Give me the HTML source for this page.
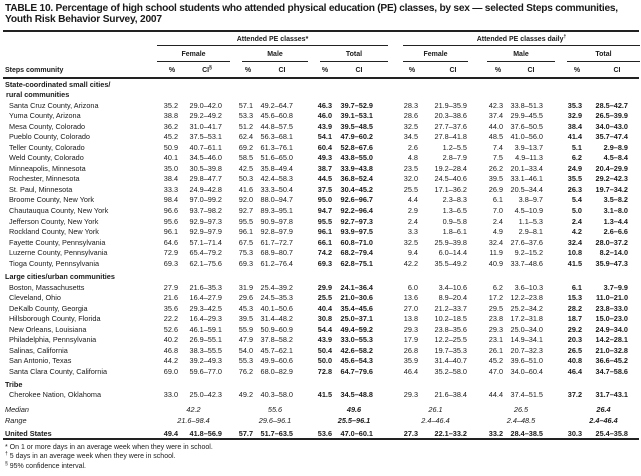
<!DOCTYPE html>
<html><head><meta charset="utf-8"><style>
body{margin:0;background:#fff;}
#p{position:relative;width:641px;height:476px;overflow:hidden;font-family:"Liberation Sans",Arial,sans-serif;color:#1a1a1a;font-size:7.3px;}
.r{position:absolute;left:0;width:641px;height:11px;line-height:11px;white-space:nowrap;}
.r span{position:absolute;}
.n{left:9px}.h{left:5px;font-weight:bold}
.a{right:463px}.b{right:419px}.c{right:388px}.d{right:348px}.e{right:309px;font-weight:bold}.f{right:268px;font-weight:bold}
.g{right:223px}.i{right:174px}.j{right:138px}.k{right:98px}.l{right:59px;font-weight:bold}.m{right:13px;font-weight:bold}
.ln{position:absolute;background:#222;}
.t{position:absolute;left:5px;font-weight:bold;font-size:10.2px;white-space:nowrap;}
.hc{position:absolute;text-align:center;font-weight:bold;font-size:7px;line-height:9px;height:9px;white-space:nowrap;}
sup{font-size:5px;line-height:0;vertical-align:3px;}
.md span{text-align:center;font-style:italic;}
.fn{position:absolute;left:5px;font-size:7px;line-height:9px;white-space:nowrap;}
</style></head><body><div id="p">
<div class="t" style="top:3px;letter-spacing:-0.25px">TABLE 10. Percentage of high school students who attended physical education (PE) classes, by sex — selected Steps communities,</div>
<div class="t" style="top:14px;letter-spacing:-0.2px">Youth Risk Behavior Survey, 2007</div>
<div class="ln" style="left:3px;width:636px;top:30px;height:2px"></div>
<div class="hc" style="left:157px;width:231px;top:35px">Attended PE classes*</div>
<div class="hc" style="left:403px;width:237px;top:35px">Attended PE classes daily<sup>†</sup></div>
<div class="ln" style="left:157px;width:231px;top:45px;height:1px"></div>
<div class="ln" style="left:403px;width:237px;top:45px;height:1px"></div>
<div class="hc" style="left:157px;width:73px;top:50px">Female</div>
<div class="hc" style="left:242px;width:66px;top:50px">Male</div>
<div class="hc" style="left:320px;width:68px;top:50px">Total</div>
<div class="hc" style="left:403px;width:65px;top:50px">Female</div>
<div class="hc" style="left:487px;width:68px;top:50px">Male</div>
<div class="hc" style="left:567px;width:73px;top:50px">Total</div>
<div class="ln" style="left:157px;width:73px;top:61px;height:1px"></div>
<div class="ln" style="left:242px;width:66px;top:61px;height:1px"></div>
<div class="ln" style="left:320px;width:68px;top:61px;height:1px"></div>
<div class="ln" style="left:403px;width:65px;top:61px;height:1px"></div>
<div class="ln" style="left:487px;width:68px;top:61px;height:1px"></div>
<div class="ln" style="left:567px;width:73px;top:61px;height:1px"></div>
<div class="hc" style="left:5px;top:66px">Steps community</div>
<div class="hc" style="left:162px;width:20px;top:66px">%</div>
<div class="hc" style="left:195px;width:24px;top:66px">CI<sup>§</sup></div>
<div class="hc" style="left:238px;width:20px;top:66px">%</div>
<div class="hc" style="left:270px;width:24px;top:66px">CI</div>
<div class="hc" style="left:315px;width:20px;top:66px">%</div>
<div class="hc" style="left:347px;width:24px;top:66px">CI</div>
<div class="hc" style="left:402px;width:20px;top:66px">%</div>
<div class="hc" style="left:441px;width:24px;top:66px">CI</div>
<div class="hc" style="left:488px;width:20px;top:66px">%</div>
<div class="hc" style="left:519px;width:24px;top:66px">CI</div>
<div class="hc" style="left:567px;width:20px;top:66px">%</div>
<div class="hc" style="left:605px;width:24px;top:66px">CI</div>
<div class="ln" style="left:3px;width:636px;top:77px;height:1.5px"></div>

<div class="r" style="top:78.5px"><span class="h">State-coordinated small cities/</span></div>
<div class="r" style="top:88.5px"><span class="h" style="left:6px">rural communities</span></div>
<div class="r" style="top:99.5px"><span class="n">Santa Cruz County, Arizona</span><span class="a">35.2</span><span class="b">29.0–42.0</span><span class="c">57.1</span><span class="d">49.2–64.7</span><span class="e">46.3</span><span class="f">39.7–52.9</span><span class="g">28.3</span><span class="i">21.9–35.9</span><span class="j">42.3</span><span class="k">33.8–51.3</span><span class="l">35.3</span><span class="m">28.5–42.7</span></div>
<div class="r" style="top:110.05px"><span class="n">Yuma County, Arizona</span><span class="a">38.8</span><span class="b">29.2–49.2</span><span class="c">53.3</span><span class="d">45.6–60.8</span><span class="e">46.0</span><span class="f">39.1–53.1</span><span class="g">28.6</span><span class="i">20.3–38.6</span><span class="j">37.4</span><span class="k">29.9–45.5</span><span class="l">32.9</span><span class="m">26.5–39.9</span></div>
<div class="r" style="top:120.6px"><span class="n">Mesa County, Colorado</span><span class="a">36.2</span><span class="b">31.0–41.7</span><span class="c">51.2</span><span class="d">44.8–57.5</span><span class="e">43.9</span><span class="f">39.5–48.5</span><span class="g">32.5</span><span class="i">27.7–37.6</span><span class="j">44.0</span><span class="k">37.6–50.5</span><span class="l">38.4</span><span class="m">34.0–43.0</span></div>
<div class="r" style="top:131.15px"><span class="n">Pueblo County, Colorado</span><span class="a">45.2</span><span class="b">37.5–53.1</span><span class="c">62.4</span><span class="d">56.3–68.1</span><span class="e">54.1</span><span class="f">47.9–60.2</span><span class="g">34.5</span><span class="i">27.8–41.8</span><span class="j">48.5</span><span class="k">41.0–56.0</span><span class="l">41.4</span><span class="m">35.7–47.4</span></div>
<div class="r" style="top:141.7px"><span class="n">Teller County, Colorado</span><span class="a">50.9</span><span class="b">40.7–61.1</span><span class="c">69.2</span><span class="d">61.3–76.1</span><span class="e">60.4</span><span class="f">52.8–67.6</span><span class="g">2.6</span><span class="i">1.2–5.5</span><span class="j">7.4</span><span class="k">3.9–13.7</span><span class="l">5.1</span><span class="m">2.9–8.9</span></div>
<div class="r" style="top:152.25px"><span class="n">Weld County, Colorado</span><span class="a">40.1</span><span class="b">34.5–46.0</span><span class="c">58.5</span><span class="d">51.6–65.0</span><span class="e">49.3</span><span class="f">43.8–55.0</span><span class="g">4.8</span><span class="i">2.8–7.9</span><span class="j">7.5</span><span class="k">4.9–11.3</span><span class="l">6.2</span><span class="m">4.5–8.4</span></div>
<div class="r" style="top:162.8px"><span class="n">Minneapolis, Minnesota</span><span class="a">35.0</span><span class="b">30.5–39.8</span><span class="c">42.5</span><span class="d">35.8–49.4</span><span class="e">38.7</span><span class="f">33.9–43.8</span><span class="g">23.5</span><span class="i">19.2–28.4</span><span class="j">26.2</span><span class="k">20.1–33.4</span><span class="l">24.9</span><span class="m">20.4–29.9</span></div>
<div class="r" style="top:173.35px"><span class="n">Rochester, Minnesota</span><span class="a">38.4</span><span class="b">29.8–47.7</span><span class="c">50.3</span><span class="d">42.4–58.3</span><span class="e">44.5</span><span class="f">36.8–52.4</span><span class="g">32.0</span><span class="i">24.5–40.6</span><span class="j">39.5</span><span class="k">33.1–46.1</span><span class="l">35.5</span><span class="m">29.2–42.3</span></div>
<div class="r" style="top:183.9px"><span class="n">St. Paul, Minnesota</span><span class="a">33.3</span><span class="b">24.9–42.8</span><span class="c">41.6</span><span class="d">33.3–50.4</span><span class="e">37.5</span><span class="f">30.4–45.2</span><span class="g">25.5</span><span class="i">17.1–36.2</span><span class="j">26.9</span><span class="k">20.5–34.4</span><span class="l">26.3</span><span class="m">19.7–34.2</span></div>
<div class="r" style="top:194.45px"><span class="n">Broome County, New York</span><span class="a">98.4</span><span class="b">97.0–99.2</span><span class="c">92.0</span><span class="d">88.0–94.7</span><span class="e">95.0</span><span class="f">92.6–96.7</span><span class="g">4.4</span><span class="i">2.3–8.3</span><span class="j">6.1</span><span class="k">3.8–9.7</span><span class="l">5.4</span><span class="m">3.5–8.2</span></div>
<div class="r" style="top:205px"><span class="n">Chautauqua County, New York</span><span class="a">96.6</span><span class="b">93.7–98.2</span><span class="c">92.7</span><span class="d">89.3–95.1</span><span class="e">94.7</span><span class="f">92.2–96.4</span><span class="g">2.9</span><span class="i">1.3–6.5</span><span class="j">7.0</span><span class="k">4.5–10.9</span><span class="l">5.0</span><span class="m">3.1–8.0</span></div>
<div class="r" style="top:215.55px"><span class="n">Jefferson County, New York</span><span class="a">95.6</span><span class="b">92.9–97.3</span><span class="c">95.5</span><span class="d">90.9–97.8</span><span class="e">95.5</span><span class="f">92.7–97.3</span><span class="g">2.4</span><span class="i">0.9–5.8</span><span class="j">2.4</span><span class="k">1.1–5.3</span><span class="l">2.4</span><span class="m">1.3–4.4</span></div>
<div class="r" style="top:226.1px"><span class="n">Rockland County, New York</span><span class="a">96.1</span><span class="b">92.9–97.9</span><span class="c">96.1</span><span class="d">92.8–97.9</span><span class="e">96.1</span><span class="f">93.9–97.5</span><span class="g">3.3</span><span class="i">1.8–6.1</span><span class="j">4.9</span><span class="k">2.9–8.1</span><span class="l">4.2</span><span class="m">2.6–6.6</span></div>
<div class="r" style="top:236.65px"><span class="n">Fayette County, Pennsylvania</span><span class="a">64.6</span><span class="b">57.1–71.4</span><span class="c">67.5</span><span class="d">61.7–72.7</span><span class="e">66.1</span><span class="f">60.8–71.0</span><span class="g">32.5</span><span class="i">25.9–39.8</span><span class="j">32.4</span><span class="k">27.6–37.6</span><span class="l">32.4</span><span class="m">28.0–37.2</span></div>
<div class="r" style="top:247.2px"><span class="n">Luzerne County, Pennsylvania</span><span class="a">72.9</span><span class="b">65.4–79.2</span><span class="c">75.3</span><span class="d">68.9–80.7</span><span class="e">74.2</span><span class="f">68.2–79.4</span><span class="g">9.4</span><span class="i">6.0–14.4</span><span class="j">11.9</span><span class="k">9.2–15.2</span><span class="l">10.8</span><span class="m">8.2–14.0</span></div>
<div class="r" style="top:257.75px"><span class="n">Tioga County, Pennsylvania</span><span class="a">69.3</span><span class="b">62.1–75.6</span><span class="c">69.3</span><span class="d">61.2–76.4</span><span class="e">69.3</span><span class="f">62.8–75.1</span><span class="g">42.2</span><span class="i">35.5–49.2</span><span class="j">40.9</span><span class="k">33.7–48.6</span><span class="l">41.5</span><span class="m">35.9–47.3</span></div>
<div class="r" style="top:270.5px"><span class="h">Large cities/urban communities</span></div>
<div class="r" style="top:281.5px"><span class="n">Boston, Massachusetts</span><span class="a">27.9</span><span class="b">21.6–35.3</span><span class="c">31.9</span><span class="d">25.4–39.2</span><span class="e">29.9</span><span class="f">24.1–36.4</span><span class="g">6.0</span><span class="i">3.4–10.6</span><span class="j">6.2</span><span class="k">3.6–10.3</span><span class="l">6.1</span><span class="m">3.7–9.9</span></div>
<div class="r" style="top:292px"><span class="n">Cleveland, Ohio</span><span class="a">21.6</span><span class="b">16.4–27.9</span><span class="c">29.6</span><span class="d">24.5–35.3</span><span class="e">25.5</span><span class="f">21.0–30.6</span><span class="g">13.6</span><span class="i">8.9–20.4</span><span class="j">17.2</span><span class="k">12.2–23.8</span><span class="l">15.3</span><span class="m">11.0–21.0</span></div>
<div class="r" style="top:302.5px"><span class="n">DeKalb County, Georgia</span><span class="a">35.6</span><span class="b">29.3–42.5</span><span class="c">45.3</span><span class="d">40.1–50.6</span><span class="e">40.4</span><span class="f">35.4–45.6</span><span class="g">27.0</span><span class="i">21.2–33.7</span><span class="j">29.5</span><span class="k">25.2–34.2</span><span class="l">28.2</span><span class="m">23.8–33.0</span></div>
<div class="r" style="top:313px"><span class="n">Hillsborough County, Florida</span><span class="a">22.2</span><span class="b">16.4–29.3</span><span class="c">39.5</span><span class="d">31.4–48.2</span><span class="e">30.8</span><span class="f">25.0–37.1</span><span class="g">13.8</span><span class="i">10.2–18.5</span><span class="j">23.8</span><span class="k">17.2–31.8</span><span class="l">18.7</span><span class="m">15.0–23.0</span></div>
<div class="r" style="top:323.5px"><span class="n">New Orleans, Louisiana</span><span class="a">52.6</span><span class="b">46.1–59.1</span><span class="c">55.9</span><span class="d">50.9–60.9</span><span class="e">54.4</span><span class="f">49.4–59.2</span><span class="g">29.3</span><span class="i">23.8–35.6</span><span class="j">29.3</span><span class="k">25.0–34.0</span><span class="l">29.2</span><span class="m">24.9–34.0</span></div>
<div class="r" style="top:334px"><span class="n">Philadelphia, Pennsylvania</span><span class="a">40.2</span><span class="b">26.9–55.1</span><span class="c">47.9</span><span class="d">37.8–58.2</span><span class="e">43.9</span><span class="f">33.0–55.3</span><span class="g">17.9</span><span class="i">12.2–25.5</span><span class="j">23.1</span><span class="k">14.9–34.1</span><span class="l">20.3</span><span class="m">14.2–28.1</span></div>
<div class="r" style="top:344.5px"><span class="n">Salinas, California</span><span class="a">46.8</span><span class="b">38.3–55.5</span><span class="c">54.0</span><span class="d">45.7–62.1</span><span class="e">50.4</span><span class="f">42.6–58.2</span><span class="g">26.8</span><span class="i">19.7–35.3</span><span class="j">26.1</span><span class="k">20.7–32.3</span><span class="l">26.5</span><span class="m">21.0–32.8</span></div>
<div class="r" style="top:355px"><span class="n">San Antonio, Texas</span><span class="a">44.2</span><span class="b">39.2–49.3</span><span class="c">55.3</span><span class="d">49.9–60.6</span><span class="e">50.0</span><span class="f">45.6–54.3</span><span class="g">35.9</span><span class="i">31.4–40.7</span><span class="j">45.2</span><span class="k">39.6–51.0</span><span class="l">40.8</span><span class="m">36.6–45.2</span></div>
<div class="r" style="top:365.5px"><span class="n">Santa Clara County, California</span><span class="a">69.0</span><span class="b">59.6–77.0</span><span class="c">76.2</span><span class="d">68.0–82.9</span><span class="e">72.8</span><span class="f">64.7–79.6</span><span class="g">46.4</span><span class="i">35.2–58.0</span><span class="j">47.0</span><span class="k">34.0–60.4</span><span class="l">46.4</span><span class="m">34.7–58.6</span></div>
<div class="r" style="top:378.5px"><span class="h">Tribe</span></div>
<div class="r" style="top:389px"><span class="n">Cherokee Nation, Oklahoma</span><span class="a">33.0</span><span class="b">25.0–42.3</span><span class="c">49.2</span><span class="d">40.3–58.0</span><span class="e">41.5</span><span class="f">34.5–48.8</span><span class="g">29.3</span><span class="i">21.6–38.4</span><span class="j">44.4</span><span class="k">37.4–51.5</span><span class="l">37.2</span><span class="m">31.7–43.1</span></div>
<div class="r md" style="top:403.5px"><span style="left:5px">Median</span><span style="left:157px;width:73px">42.2</span><span style="left:242px;width:66px">55.6</span><span style="left:320px;width:68px;font-weight:bold">49.6</span><span style="left:403px;width:65px">26.1</span><span style="left:487px;width:68px">26.5</span><span style="left:567px;width:73px;font-weight:bold">26.4</span></div>
<div class="r md" style="top:414.5px"><span style="left:5px">Range</span><span style="left:157px;width:73px">21.6–98.4</span><span style="left:242px;width:66px">29.6–96.1</span><span style="left:320px;width:68px;font-weight:bold">25.5–96.1</span><span style="left:403px;width:65px">2.4–46.4</span><span style="left:487px;width:68px">2.4–48.5</span><span style="left:567px;width:73px;font-weight:bold">2.4–46.4</span></div>
<div class="r" style="top:427.5px;font-weight:bold"><span class="h">United States</span><span class="a">49.4</span><span class="b">41.8–56.9</span><span class="c">57.7</span><span class="d">51.7–63.5</span><span class="e">53.6</span><span class="f">47.0–60.1</span><span class="g">27.3</span><span class="i">22.1–33.2</span><span class="j">33.2</span><span class="k">28.4–38.5</span><span class="l">30.3</span><span class="m">25.4–35.8</span></div>
<div class="ln" style="left:3px;width:636px;top:438px;height:2px"></div>
<div class="fn" style="top:442.5px">* On 1 or more days in an average week when they were in school.</div>
<div class="fn" style="top:451.5px"><sup>†</sup> 5 days in an average week when they were in school.</div>
<div class="fn" style="top:461.5px"><sup>§</sup> 95% confidence interval.</div>
</div></body></html>
